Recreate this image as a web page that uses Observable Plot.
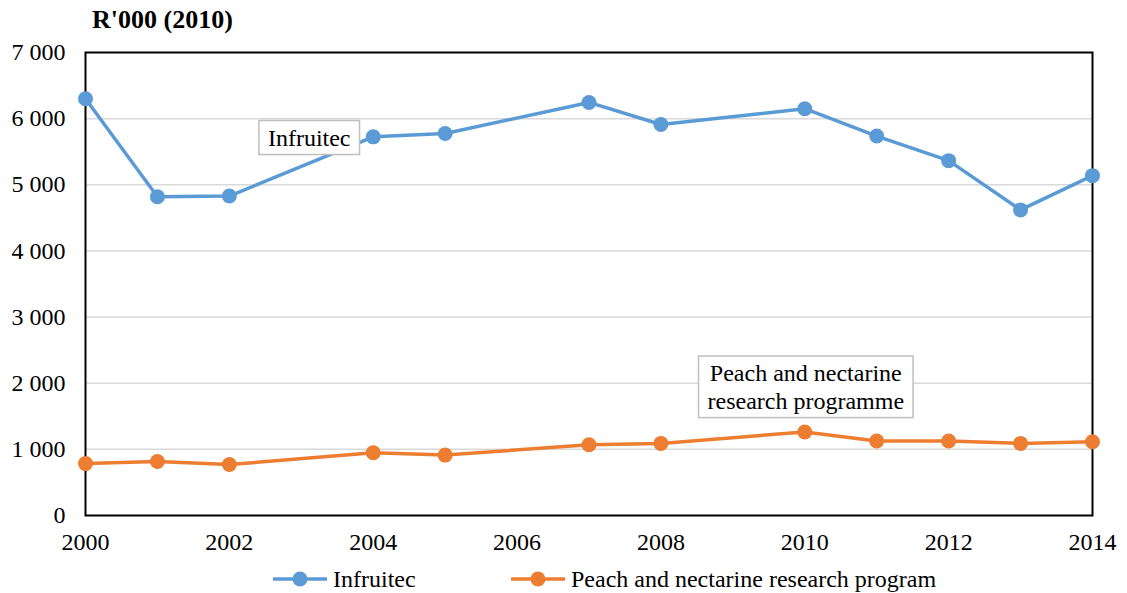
<!DOCTYPE html>
<html>
<head>
<meta charset="utf-8">
<script src="https://cdn.jsdelivr.net/npm/d3@7"></script>
<script src="https://cdn.jsdelivr.net/npm/@observablehq/plot@0.6"></script>
<style>
  body { margin: 0; background: #fff; font-family: "Liberation Serif", "Times New Roman", serif; }
  #wrap { position: relative; width: 1127px; }
  #title { position: absolute; left: 92px; top: 7px; font-size: 26px; font-weight: bold; line-height: 1; color: #000; }
  #legend { position: relative; height: 28px; font-size: 24px; line-height: 28px; color: #000; }
  .item { position: absolute; top: 0; display: flex; align-items: center; height: 28px; }
  .item svg { margin-right: 5px; }
</style>
</head>
<body>
<div id="wrap">
  <div id="title">R'000 (2010)</div>
  <div id="chart"></div>
  <div id="legend"></div>
</div>
<script>
const years = [2000, 2001, 2002, 2004, 2005, 2007, 2008, 2010, 2011, 2012, 2013, 2014];
const infruitec = [6300, 4820, 4830, 5725, 5775, 6245, 5912, 6150, 5737, 5365, 4620, 5138];
const peach = [785, 816, 770, 948, 913, 1070, 1090, 1263, 1126, 1126, 1090, 1116];
const seriesNames = ["Infruitec", "Peach and nectarine research program"];
const seriesColors = ["#5b9bd5", "#ed7d31"];
const xTicks = [2000, 2002, 2004, 2006, 2008, 2010, 2012, 2014];
const yTicks = [0, 1000, 2000, 3000, 4000, 5000, 6000, 7000];
const gridTicks = [1000, 2000, 3000, 4000, 5000, 6000];
const labelInfruitec = "Infruitec";
const labelPeach = "Peach and nectarine\nresearch programme";

const rowsA = years.map((y, i) => ({year: y, value: infruitec[i]}));
const rowsB = years.map((y, i) => ({year: y, value: peach[i]}));
const fmt = d => d3.format(",")(d).replace(/,/g, " ");

const chart = Plot.plot({
  width: 1127,
  height: 565,
  marginTop: 52,
  marginLeft: 85,
  marginRight: 35,
  marginBottom: 50,
  style: {fontFamily: "'Liberation Serif', 'Times New Roman', serif", fontSize: "24px", color: "#000", background: "#fff"},
  x: {domain: [2000, 2014], ticks: xTicks, tickFormat: d => String(d), tickSize: 0, tickPadding: 17, label: null},
  y: {domain: [0, 7000], ticks: yTicks, tickFormat: fmt, tickSize: 0, tickPadding: 20, label: null},
  marks: [
    Plot.ruleY(gridTicks, {stroke: "#d9d9d9", strokeWidth: 1.5}),
    Plot.frame({stroke: "#000", strokeWidth: 2}),
    Plot.line(rowsA, {x: "year", y: "value", stroke: seriesColors[0], strokeWidth: 3.5}),
    Plot.dot(rowsA, {x: "year", y: "value", fill: seriesColors[0], r: 7.5}),
    Plot.line(rowsB, {x: "year", y: "value", stroke: seriesColors[1], strokeWidth: 3.5}),
    Plot.dot(rowsB, {x: "year", y: "value", fill: seriesColors[1], r: 7.5}),
    Plot.text([rowsA[3]], {x: "year", y: "value", text: () => labelInfruitec, dx: -64, dy: 1, fill: "#000", fontSize: 24, className: "boxlabel"}),
    Plot.text([rowsB[7]], {x: "year", y: "value", text: () => labelPeach, dx: 1, dy: -46, lineHeight: 1.15, fill: "#000", fontSize: 24, className: "boxlabel"})
  ]
});
document.getElementById("chart").appendChild(chart);

// draw boxes behind annotation labels
d3.select(chart).selectAll("g.boxlabel text").each(function() {
  const b = this.getBBox();
  const padX = 9, padY = 4;
  d3.select(this.parentNode).insert("rect", () => this)
    .attr("x", b.x - padX).attr("y", b.y - padY)
    .attr("width", b.width + 2 * padX).attr("height", b.height + 2 * padY)
    .attr("fill", "#fff").attr("stroke", "#bfbfbf").attr("stroke-width", 1.5)
    .attr("transform", this.getAttribute("transform"));
});

// legend
const legend = d3.select("#legend");
const legendLeft = [273, 511];
seriesNames.forEach((name, i) => {
  const it = legend.append("div").attr("class", "item").style("left", legendLeft[i] + "px");
  const s = it.append("svg").attr("width", 55).attr("height", 20);
  s.append("line").attr("x1", 0).attr("x2", 54).attr("y1", 10).attr("y2", 10)
    .attr("stroke", seriesColors[i]).attr("stroke-width", 3.5);
  s.append("circle").attr("cx", 27).attr("cy", 10).attr("r", 7.5).attr("fill", seriesColors[i]);
  it.append("span").text(name);
});
</script>
</body>
</html>
